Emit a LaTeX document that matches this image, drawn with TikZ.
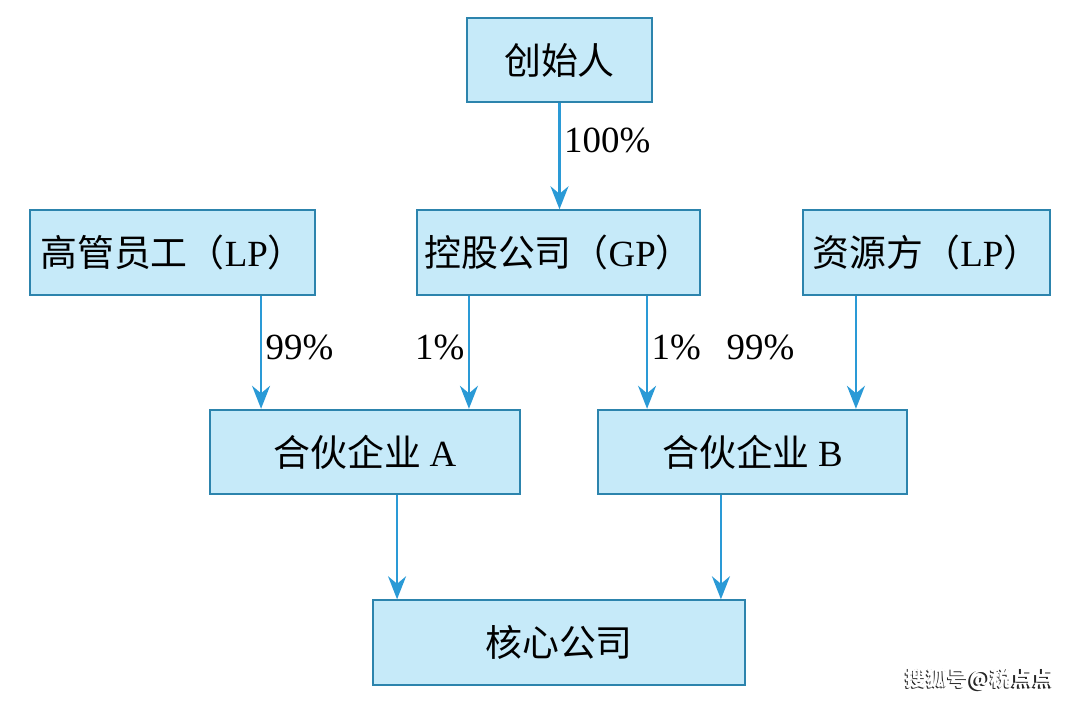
\documentclass[tikz,border=0pt]{standalone}
\usepackage{fontspec}
\usepackage{xcolor}
\usepackage{tikz}
\usetikzlibrary{arrows.meta}
\setmainfont{Liberation Serif}
\newfontfamily\cjk{Noto Sans CJK SC}

\definecolor{boxfill}{HTML}{C6EAF9}
\definecolor{boxline}{HTML}{2C84AD}
\definecolor{flowline}{HTML}{2A9AD6}

\begin{document}
\begin{tikzpicture}[x=0.02cm, y=-0.02cm,
    firm/.style={draw=boxline, fill=boxfill, line width=1.1pt, rectangle,
        minimum height=1.69cm, inner sep=0pt, font=\fontsize{21}{25}\selectfont},
    flow/.style={draw=flowline, line width=1.3pt,
        -{Stealth[length=4.6mm, width=3.6mm, inset=1.5mm]}},
    pct/.style={inner sep=2pt, font=\fontsize{21}{25}\selectfont}]
    \useasboundingbox (0,0) rectangle (1080,702);

    % Top level
    \node[firm, minimum width=3.7cm] (founder) at (559.5,60) {\cjk 创始人};

    % Middle row
    \node[firm, minimum width=5.7cm] (staff) at (172.5,252.5) {{\cjk 高管员工（}LP{\cjk ）}};
    \node[firm, minimum width=5.66cm] (holding) at (558.5,252.5) {{\cjk 控股公司（}GP{\cjk ）}};
    \node[firm, minimum width=4.94cm] (resource) at (926.5,252.5) {{\cjk 资源方（}LP{\cjk ）}};

    % Partnerships
    \node[firm, minimum width=6.2cm] (partA) at (365,452) {{\cjk 合伙企业 }A};
    \node[firm, minimum width=6.18cm] (partB) at (752.5,452) {{\cjk 合伙企业 }B};

    % Core company
    \node[firm, minimum width=7.44cm] (core) at (559,642.5) {\cjk 核心公司};

    % Arrow end points
    \coordinate (a1) at ([xshift=1.04cm]partA.north west);
    \coordinate (a2) at ([xshift=-1.04cm]partA.north east);
    \coordinate (b1) at ([xshift=1.0cm]partB.north west);
    \coordinate (b2) at ([xshift=-1.04cm]partB.north east);
    \coordinate (c1) at ([xshift=0.5cm]core.north west);
    \coordinate (c2) at ([xshift=-0.5cm]core.north east);

    % Edges
    \draw[flow] (founder.south) -- (founder.south |- holding.north) node[pct, right, pos=0.35] {100\%};
    \draw[flow] (staff.south -| a1) -- (a1) node[pct, right, pos=0.46] {99\%};
    \draw[flow] (holding.south -| a2) -- (a2) node[pct, left, pos=0.46] {1\%};
    \draw[flow] (holding.south -| b1) -- (b1) node[pct, right, pos=0.46] {1\%};
    \draw[flow] (resource.south -| b2) -- (b2) node[pct, left, pos=0.46, xshift=-1.14cm] {99\%};
    \draw[flow] (partA.south -| c1) -- (c1);
    \draw[flow] (partB.south -| c2) -- (c2);

    % Watermark
    \node[text=black!85, font=\cjk\bfseries\fontsize{12}{14}\selectfont] (markshade) at (978.5,680) {搜狐号@税点点};
    \node[text=white, font=\cjk\bfseries\fontsize{12}{14}\selectfont] (mark) at (980,679) {搜狐号@税点点};
\end{tikzpicture}
\end{document}
